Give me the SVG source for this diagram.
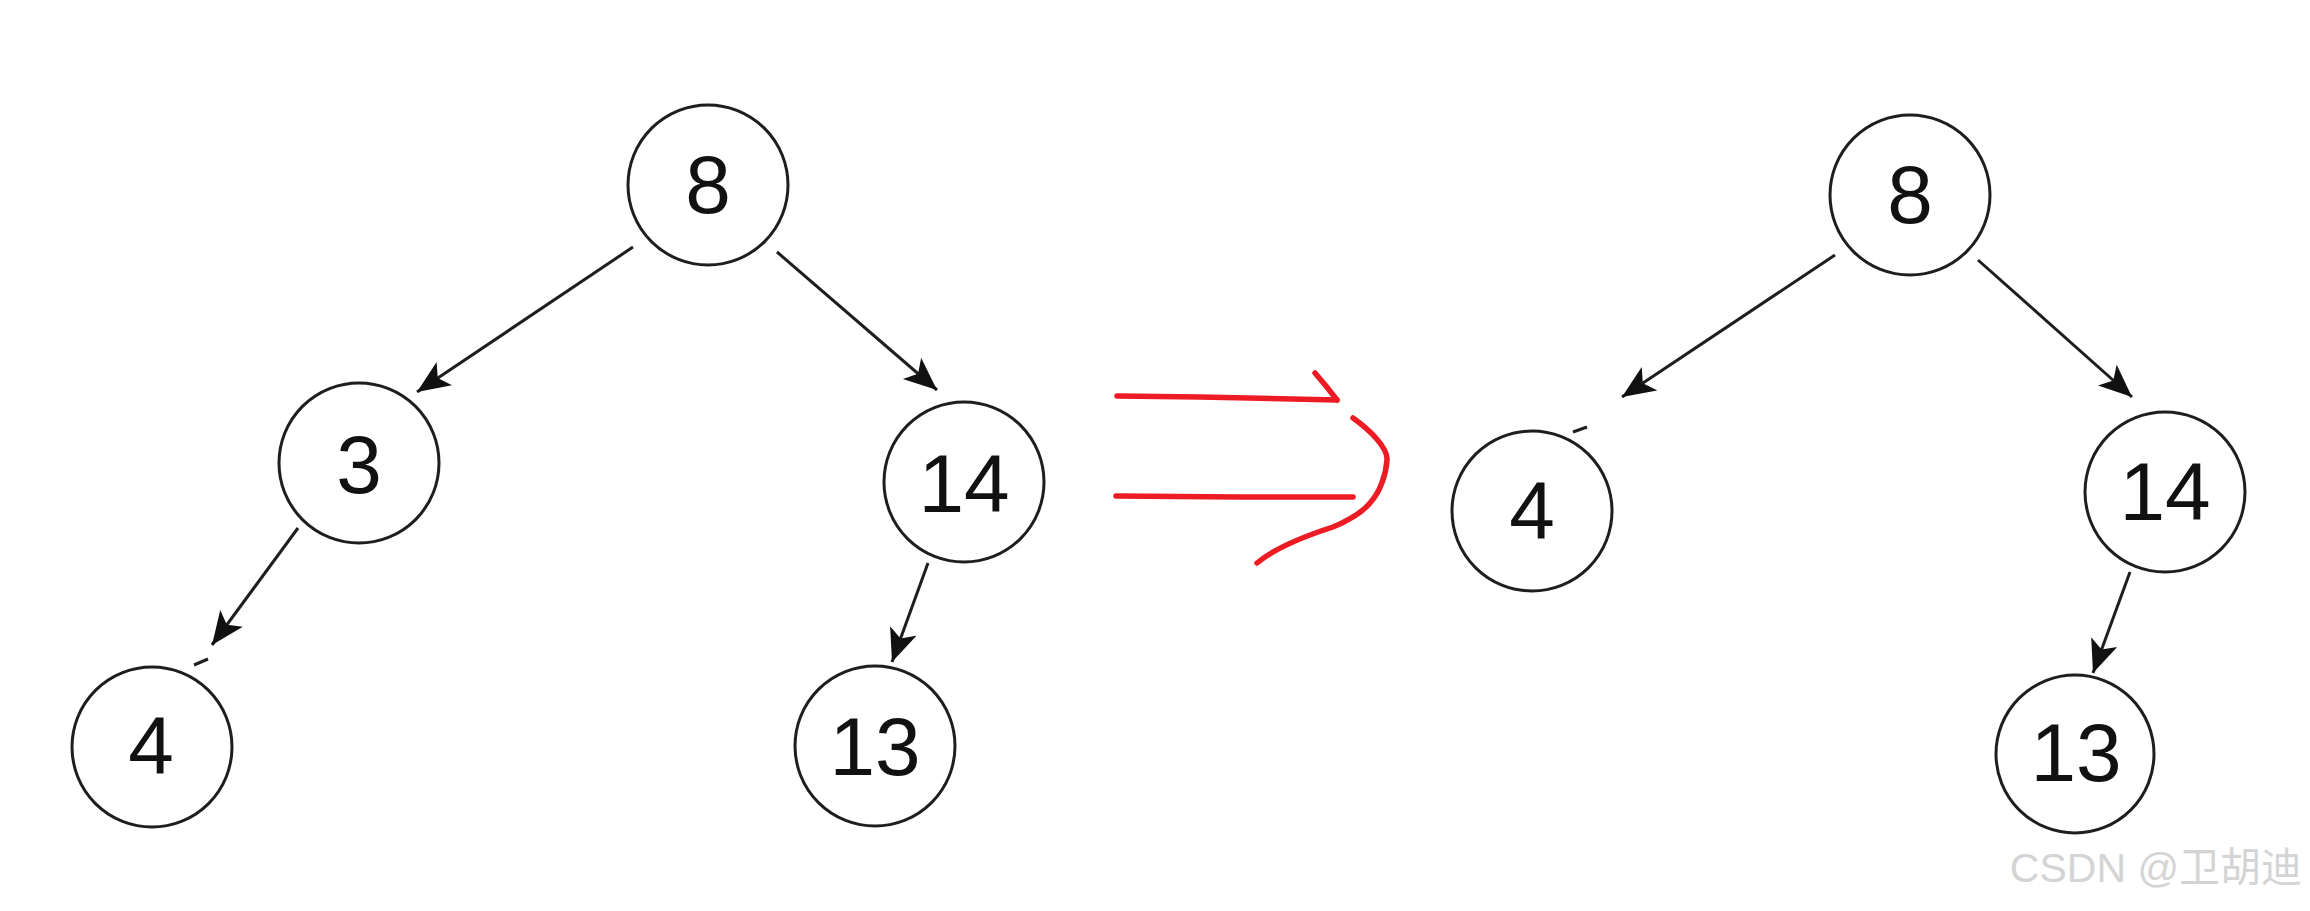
<svg xmlns="http://www.w3.org/2000/svg" width="2310" height="911" viewBox="0 0 2310 911">
<style>
.node circle{fill:#fff;stroke:#1e1e1e;stroke-width:3}
.node text{font-family:"Liberation Sans",Arial,sans-serif;font-size:82px;fill:#111;text-anchor:middle}
.edge{stroke:#1e1e1e;stroke-width:3;fill:none}
.red{stroke:#ED1C24;stroke-width:5.5;fill:none;stroke-linecap:round;stroke-linejoin:round}
</style>
<defs>
<marker id="ah" markerUnits="userSpaceOnUse" markerWidth="36" markerHeight="30" refX="33" refY="14" orient="auto">
<path d="M0,0 L33,14 L0,28 L8,14 Z" fill="#111"/>
</marker>
</defs>
<rect width="2310" height="911" fill="#fff"/>
<g id="connectors">
<line class="edge" x1="633" y1="247" x2="417" y2="392" marker-end="url(#ah)"/>
<line class="edge" x1="777" y1="252" x2="937" y2="390" marker-end="url(#ah)"/>
<line class="edge" x1="298" y1="528" x2="212" y2="645" marker-end="url(#ah)"/>
<line class="edge" x1="928" y1="563" x2="892" y2="662" marker-end="url(#ah)"/>
<line class="edge" x1="1835" y1="255" x2="1622" y2="397" marker-end="url(#ah)"/>
<line class="edge" x1="1978" y1="260" x2="2132" y2="397" marker-end="url(#ah)"/>
<line class="edge" x1="2130" y1="572" x2="2093" y2="673" marker-end="url(#ah)"/>
<line class="edge" x1="208" y1="659" x2="194" y2="665"/>
<line class="edge" x1="1587" y1="427" x2="1573" y2="432"/>
</g>
<g id="transform-arrow">
<path class="red" d="M1117,396 L1200,397 L1337,400"/>
<path class="red" d="M1315,373 L1326,386 L1337,400"/>
<path class="red" d="M1116,496 L1240,497 L1353,497"/>
<path class="red" d="M1353,418 C1370,430 1388,448 1387,460 C1386,475 1380,492 1370,503 C1360,515 1345,522 1333,527 C1305,536 1275,548 1257,563"/>
</g>
<g id="n8a" class="node"><circle cx="708" cy="185" r="80"/><text x="708" y="213">8</text></g>
<g id="n3a" class="node"><circle cx="359" cy="463" r="80"/><text x="359" y="493">3</text></g>
<g id="n14a" class="node"><circle cx="964" cy="482" r="80"/><text x="964" y="512">14</text></g>
<g id="n4a" class="node"><circle cx="152" cy="747" r="80"/><text x="151" y="774">4</text></g>
<g id="n13a" class="node"><circle cx="875" cy="746" r="80"/><text x="875" y="775">13</text></g>
<g id="n8b" class="node"><circle cx="1910" cy="195" r="80"/><text x="1910" y="223">8</text></g>
<g id="n4b" class="node"><circle cx="1532" cy="511" r="80"/><text x="1532" y="539">4</text></g>
<g id="n14b" class="node"><circle cx="2165" cy="492" r="80"/><text x="2165" y="520">14</text></g>
<g id="n13b" class="node"><circle cx="2075" cy="754" r="79"/><text x="2076" y="781">13</text></g>
<text x="2302" y="882" text-anchor="end" font-family="'Liberation Sans','Noto Sans CJK SC',sans-serif" font-size="41" fill="#d4d4d4">CSDN @卫胡迪</text>
</svg>
